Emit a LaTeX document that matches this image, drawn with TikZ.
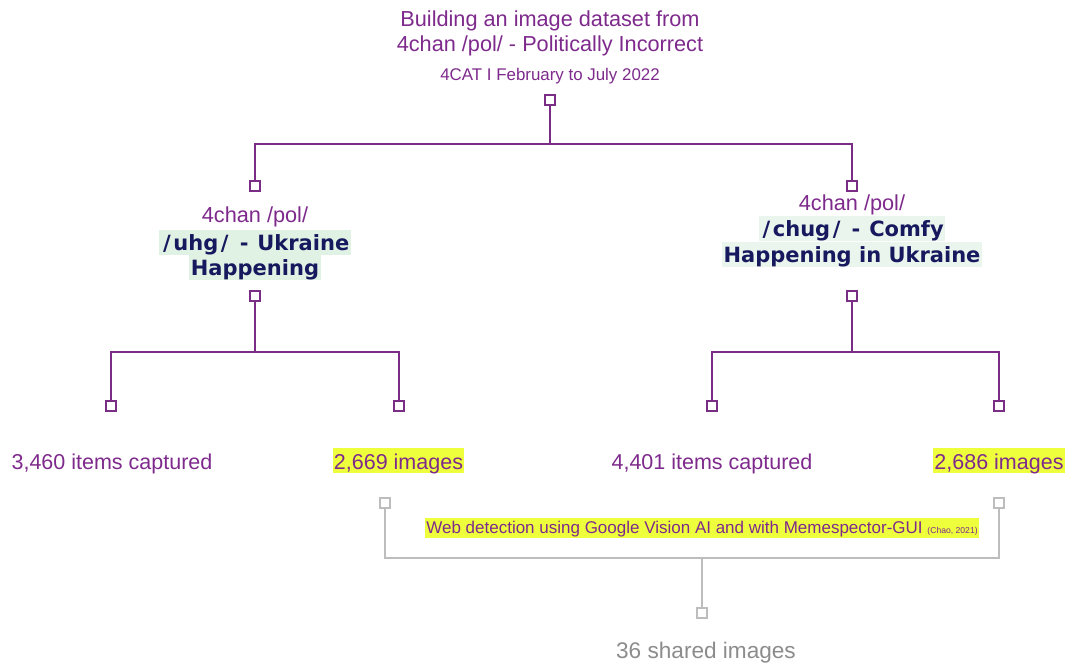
\documentclass[tikz,border=0pt]{standalone}
\usepackage{fontspec}
\setmainfont{Liberation Sans}
\newfontfamily\verd{DejaVu Sans}
\newcommand\SL{\kern2.5pt/\kern2.5pt}
\newcommand\HY{\kern1.5pt-\kern1.5pt}
\definecolor{purp}{HTML}{7E2A8C}
\definecolor{linep}{HTML}{7A2D84}
\definecolor{navy}{HTML}{17195E}
\definecolor{mint}{HTML}{E0F2E3}
\definecolor{mintl}{HTML}{EAF5EE}
\definecolor{yel}{HTML}{EEFF3C}
\definecolor{grayl}{HTML}{BDBDBD}
\definecolor{grayt}{HTML}{8C8C8C}
\tikzset{
  sq/.style={draw=linep, fill=white, line width=1.7pt, rectangle, minimum size=9.5pt, inner sep=0pt},
  gsq/.style={sq, draw=grayl},
  conn/.style={draw=linep, line width=1.5pt},
  gconn/.style={draw=grayl, line width=1.5pt},
  ptext/.style={text=purp, font=\fontsize{21.7}{26}\selectfont, inner sep=0pt, anchor=base},
  stext/.style={text=purp, font=\fontsize{16.9}{18}\selectfont, inner sep=0pt, anchor=base},
  btext/.style={text=navy, font=\verd\bfseries\fontsize{21}{24}\selectfont, inner xsep=1.5pt, inner ysep=2pt,
                text height=18.5pt, text depth=2.5pt, anchor=base},
  ytext/.style={text=purp, fill=yel, font=\fontsize{21.5}{24}\selectfont, inner xsep=1pt, inner ysep=2pt,
                text height=19pt, text depth=2pt, anchor=base},
}
\begin{document}
\begin{tikzpicture}[x=1pt,y=-1pt]
\useasboundingbox[fill=white] (0,0) rectangle (1066,667);
% title
\node[ptext] (title1) at (550,26.6) {Building an image dataset from};
\node[ptext] (title2) at (550,51.5) {4chan /pol/ - Politically Incorrect};
\node[stext] (sub) at (550,80.7) {4CAT I February to July 2022};
\node[sq] (t0) at (550,100) {};
\node[sq] (l0) at (255,186) {};
\node[sq] (r0) at (852,186) {};
\draw[conn] (t0.south) -- ++(0,38.5) -| (l0.north);
\draw[conn] (t0.south) -- ++(0,38.5) -| (r0.north);
% left branch
\node[ptext] (lpol) at (255,222.3) {4chan /pol/};
\node[btext, fill=mint] (lb1) at (255,250.5) {\SL uhg\SL\ \HY\ Ukraine};
\node[btext, fill=mint] (lb2) at (255,275.5) {Happening};
% right branch
\node[ptext] (rpol) at (852,210.7) {4chan /pol/};
\node[btext, fill=mintl] (rb1) at (852,236.5) {\SL chug\SL\ \HY\ Comfy};
\node[btext, fill=mintl] (rb2) at (852,262) {Happening in Ukraine};
% second-level squares
\node[sq] (l1) at (255,296) {};
\node[sq] (l2a) at (111,406) {};
\node[sq] (l2b) at (399,406) {};
\draw[conn] (l1.south) -- ++(0,50.5) -| (l2a.north);
\draw[conn] (l1.south) -- ++(0,50.5) -| (l2b.north);
\node[sq] (r1) at (852,296) {};
\node[sq] (r2a) at (712,406) {};
\node[sq] (r2b) at (999,406) {};
\draw[conn] (r1.south) -- ++(0,50.5) -| (r2a.north);
\draw[conn] (r1.south) -- ++(0,50.5) -| (r2b.north);
% counts
\node[ptext, font=\fontsize{21.5}{24}\selectfont] (c1) at (112,469) {3,460 items captured};
\node[ytext] (c2) at (398.5,469) {2,669 images};
\node[ptext, font=\fontsize{21.5}{24}\selectfont] (c3) at (712,469) {4,401 items captured};
\node[ytext] (c4) at (999,469) {2,686 images};
% gray part
\node[gsq] (g1) at (385,503) {};
\node[gsq] (g2) at (999,503) {};
\node[gsq] (g3) at (702,613) {};
\coordinate (gj) at (702,558);
\draw[gconn] (g1.south) |- (gj) -| (g2.south);
\draw[gconn] (gj) -- (g3.north);
\node[text=purp, fill=yel, inner xsep=1pt, inner ysep=2pt, text height=13pt, text depth=3pt, anchor=base,
      font=\fontsize{17}{18}\selectfont] (web) at (702,533)
  {Web detection using Google Vision AI and with Memespector-GUI {\fontsize{8.6}{9}\selectfont(Chao, 2021)}};
\node[text=grayt, font=\fontsize{22.6}{24}\selectfont, inner sep=0pt, anchor=base] (shared) at (706,658) {36 shared images};
\end{tikzpicture}
\end{document}
